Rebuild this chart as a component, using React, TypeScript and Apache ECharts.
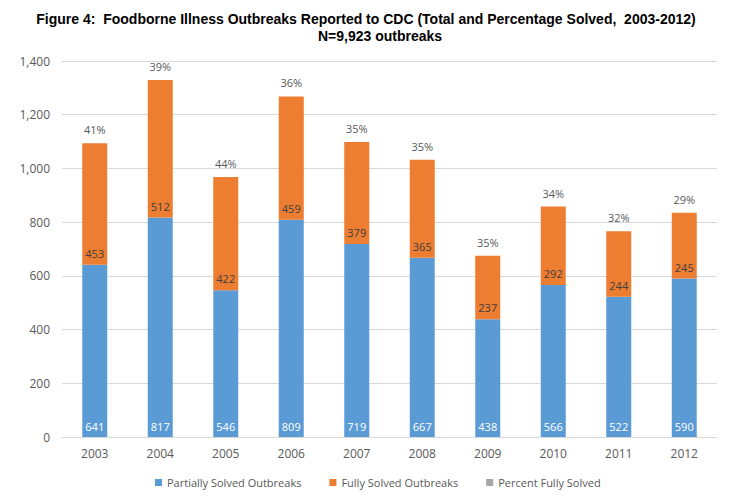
import React, { useEffect, useRef } from "react";
import * as echarts from "echarts";

const years = ["2003", "2004", "2005", "2006", "2007", "2008", "2009", "2010", "2011", "2012"];
const partiallySolved = [641, 817, 546, 809, 719, 667, 438, 566, 522, 590];
const fullySolved = [453, 512, 422, 459, 379, 365, 237, 292, 244, 245];
const percentFullySolved = [41, 39, 44, 36, 35, 35, 35, 34, 32, 29];
const yTicks = { min: 0, max: 1400, interval: 200 };

const FONT = "'Open Sans', 'Noto Sans', sans-serif";
const TITLE_FONT = "'Liberation Sans', Arial, sans-serif";

export default function App() {
  const ref = useRef<HTMLDivElement>(null);

  useEffect(() => {
    if (!ref.current) return;
    const chart = echarts.init(ref.current, null, { renderer: "svg" });
    chart.setOption({
      animation: false,
      backgroundColor: "#ffffff",
      title: [
        {
          text: "Figure 4:  Foodborne Illness Outbreaks Reported to CDC (Total and Percentage Solved,  2003-2012)",
          left: 361,
          textAlign: "center",
          top: 7,
          textStyle: { fontFamily: TITLE_FONT, fontWeight: "bold", fontSize: 14, color: "#000" },
        },
        {
          text: "N=9,923 outbreaks",
          left: 375,
          textAlign: "center",
          top: 24,
          textStyle: { fontFamily: TITLE_FONT, fontWeight: "bold", fontSize: 14, color: "#000" },
        },
      ],
      legend: {
        bottom: 7,
        left: 150,
        itemWidth: 7,
        itemHeight: 7,
        itemGap: 28,
        icon: "rect",
        textStyle: { fontFamily: FONT, fontSize: 11, color: "#595959" },
        data: ["Partially Solved Outbreaks", "Fully Solved Outbreaks", "Percent Fully Solved"],
      },
      grid: { left: 62, right: 22, top: 61, bottom: 63, containLabel: false },
      xAxis: {
        type: "category",
        data: years,
        axisLine: { lineStyle: { color: "#d9d9d9" } },
        axisTick: { show: false },
        axisLabel: { fontFamily: FONT, fontSize: 12, color: "#595959", margin: 10 },
      },
      yAxis: {
        type: "value",
        min: yTicks.min,
        max: yTicks.max,
        interval: yTicks.interval,
        axisLine: { show: false },
        axisTick: { show: false },
        splitLine: { lineStyle: { color: "#d9d9d9" } },
        axisLabel: {
          fontFamily: FONT,
          fontSize: 12,
          color: "#595959",
          margin: 12,
          formatter: (v: number) => v.toLocaleString("en-US"),
        },
      },
      series: [
        {
          name: "Partially Solved Outbreaks",
          type: "bar",
          stack: "total",
          barWidth: 25,
          data: partiallySolved,
          itemStyle: { color: "#5b9bd5" },
          label: {
            show: true,
            position: "insideBottom",
            distance: 5,
            fontFamily: FONT,
            fontSize: 11,
            color: "#ffffff",
          },
        },
        {
          name: "Fully Solved Outbreaks",
          type: "bar",
          stack: "total",
          barWidth: 25,
          data: fullySolved,
          itemStyle: { color: "#ed7d31" },
          label: {
            show: true,
            position: "insideBottom",
            distance: 6,
            fontFamily: FONT,
            fontSize: 11,
            color: "#404040",
          },
        },
        {
          name: "Percent Fully Solved",
          type: "bar",
          stack: "total",
          barWidth: 25,
          data: percentFullySolved.map(() => 0),
          itemStyle: { color: "#a5a5a5" },
          label: {
            show: true,
            position: "top",
            distance: 8,
            fontFamily: FONT,
            fontSize: 11,
            color: "#595959",
            formatter: (p: any) => percentFullySolved[p.dataIndex] + "%",
          },
        },
      ],
    });
    return () => chart.dispose();
  }, []);

  return (
    <div
      ref={ref}
      style={{ position: "fixed", left: 0, top: 0, width: 739, height: 500 }}
    />
  );
}
